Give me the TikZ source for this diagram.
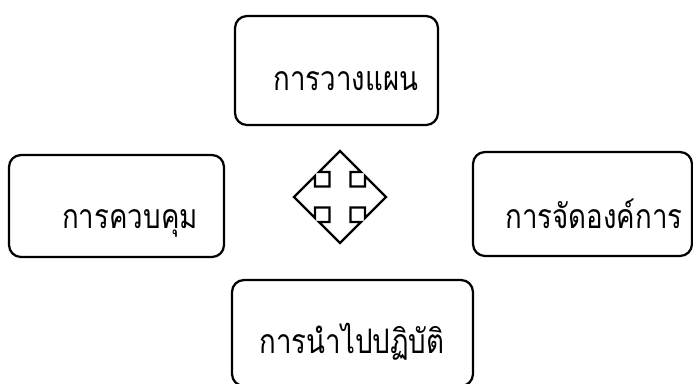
\documentclass[tikz,border=0pt]{standalone}
\usepackage{fontspec}
\newfontfamily\thaifont[Script=Thai, FakeStretch=0.82]{Loma}
\begin{document}
\begin{tikzpicture}[
  x=0.025cm, y=-0.025cm,
  stage/.style={draw, line width=1.6pt, rounded corners=0.3cm, inner sep=0pt},
  word/.style={font=\thaifont\fontsize{24}{28}\selectfont, anchor=base, inner sep=0pt}
]
\useasboundingbox (0,0) rectangle (693,383);
% the four boxes
\node[stage, minimum width=203*0.025cm, minimum height=109*0.025cm] (plan) at (336.5,70.5) {};
\node[stage, minimum width=215*0.025cm, minimum height=102*0.025cm] (control) at (116.5,206) {};
\node[stage, minimum width=219*0.025cm, minimum height=104*0.025cm] (organize) at (582.5,204) {};
\node[stage, minimum width=241*0.025cm, minimum height=106*0.025cm] (implement) at (352.5,333) {};
% texts
\node[word] (plantext) at (346,90) {การวางแผน};
\node[word] (controltext) at (130,228) {การควบคุม};
\node[word] (organizetext) at (594,228) {การจัดองค์การ};
\node[word] (implementtext) at (352,353) {การนำไปปฏิบัติ};
% four-way arrow
\begin{scope}[shift={(340,197)}]
\draw[line width=1.6pt, line join=miter]
  (0,-46) -- (21,-25) -- (10.5,-25) -- (10.5,-10.5) -- (25,-10.5) -- (25,-21)
  -- (46,0) -- (25,21) -- (25,10.5) -- (10.5,10.5) -- (10.5,25) -- (21,25)
  -- (0,46) -- (-21,25) -- (-10.5,25) -- (-10.5,10.5) -- (-25,10.5) -- (-25,21)
  -- (-46,0) -- (-25,-21) -- (-25,-10.5) -- (-10.5,-10.5) -- (-10.5,-25) -- (-21,-25)
  -- cycle;
\end{scope}
\end{tikzpicture}
\end{document}
